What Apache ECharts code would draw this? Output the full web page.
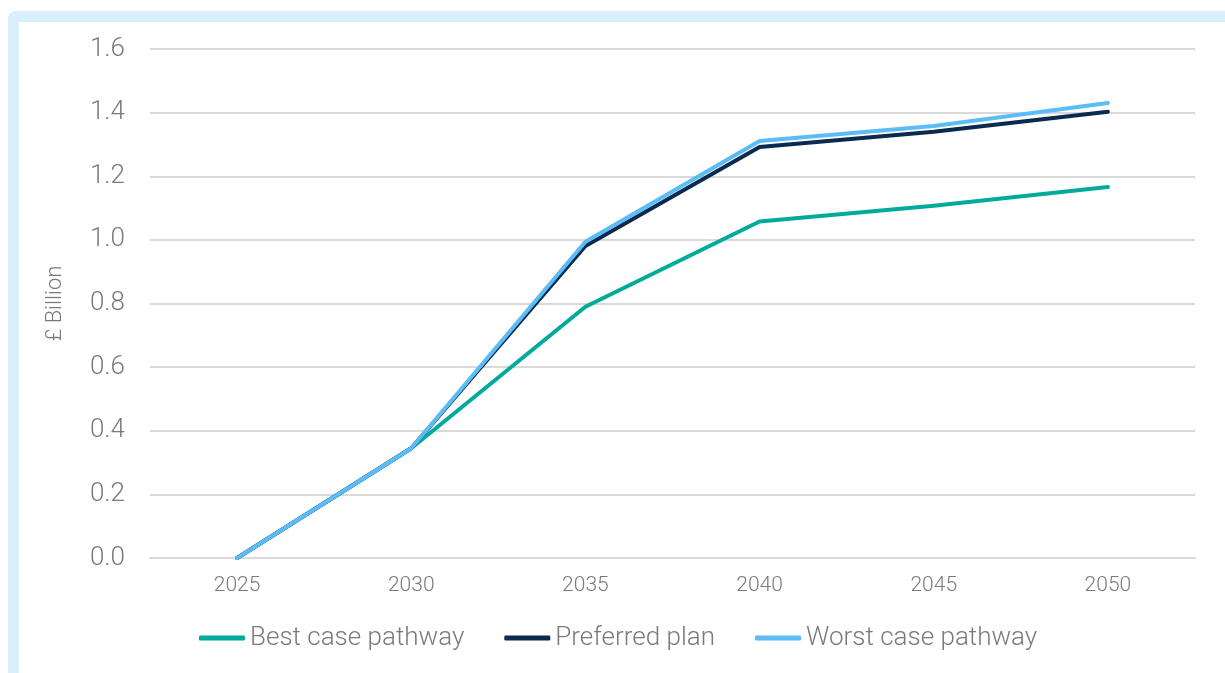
<!DOCTYPE html>
<html>
<head>
<meta charset="utf-8">
<script src="https://cdn.jsdelivr.net/npm/echarts@6/dist/echarts.min.js"></script>
<style>
  html, body { margin: 0; padding: 0; background: #fff; overflow: hidden; }
  #frame {
    position: absolute; left: 8px; top: 11px; width: 1210px; height: 660px;
    border: 11px solid #d9effc; border-radius: 8px; box-sizing: content-box;
  }
  #chart { position: absolute; left: 0; top: 0; width: 1225px; height: 673px; }
</style>
</head>
<body>
<div id="frame"></div>
<div id="chart"></div>
<script>
// 年份
const years = ['2025', '2030', '2035', '2040', '2045', '2050']
// 各情景（£ Billion）
const bestCase = [0, 0.345, 0.79, 1.058, 1.107, 1.166]
const preferredPlan = [0, 0.345, 0.981, 1.292, 1.34, 1.403]
const worstCase = [0, 0.345, 0.994, 1.311, 1.358, 1.43]
const seriesNames = ['Best case pathway', 'Preferred plan', 'Worst case pathway']
const colors = ['#00ab9c', '#0b2a4f', '#5cbcf6']

const labelColor = '#7a7a7a'
const font = 'Roboto, sans-serif'

const series = [bestCase, preferredPlan, worstCase].map((v, i) => ({
  name: seriesNames[i],
  type: 'line',
  symbol: 'none',
  z: 3 + i,
  lineStyle: { width: 4, color: colors[i], cap: 'round', join: 'round' },
  itemStyle: { color: colors[i] },
  data: v
}))

const option = {
  animation: false,
  color: colors,
  grid: { left: 150, right: 30, top: 49, bottom: 115 },
  legend: {
    left: 194,
    top: 620,
    icon: 'roundRect',
    itemWidth: 46,
    itemHeight: 5,
    itemGap: 40,
    textStyle: { color: labelColor, fontSize: 26, fontWeight: 300, fontFamily: font },
    data: seriesNames
  },
  xAxis: {
    type: 'category',
    data: years,
    boundaryGap: true,
    axisTick: { show: false },
    axisLine: { show: true, lineStyle: { color: '#d9d9d9', width: 2 } },
    axisLabel: { color: labelColor, fontSize: 21, fontWeight: 300, fontFamily: font, margin: 17 }
  },
  yAxis: {
    type: 'value',
    min: 0,
    max: 1.6,
    interval: 0.2,
    name: '£ Billion',
    nameLocation: 'middle',
    nameGap: 84,
    nameRotate: 90,
    nameTextStyle: { color: labelColor, fontSize: 22, fontWeight: 300, fontFamily: font },
    axisLine: { show: false },
    axisTick: { show: false },
    splitLine: { lineStyle: { color: '#d9d9d9', width: 2 } },
    axisLabel: {
      color: labelColor,
      fontSize: 26,
      fontWeight: 300,
      fontFamily: font,
      margin: 25,
      formatter: v => v.toFixed(1)
    }
  },
  series
}

const chart = echarts.init(document.getElementById('chart'))
chart.setOption(option, true)
</script>
</body>
</html>
